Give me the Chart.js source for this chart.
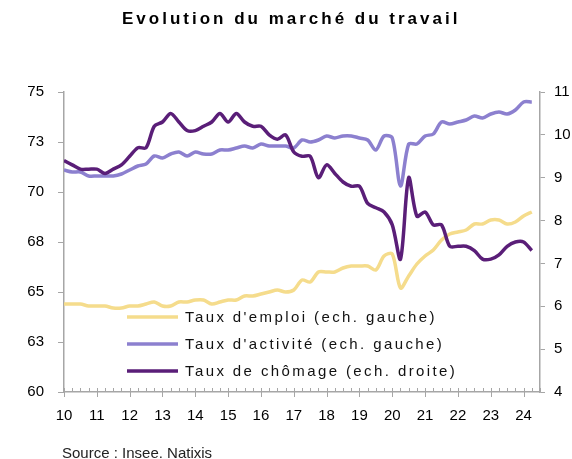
<!DOCTYPE html>
<html>
<head>
<meta charset="utf-8">
<script src="https://cdn.jsdelivr.net/npm/chart.js@4.4.1/dist/chart.umd.min.js"></script>
<style>
  body { margin: 0; background: #fff; }
  #wrap { width: 572px; height: 459px; }
</style>
</head>
<body>
<div id="wrap"><canvas id="labour-canvas" width="572" height="459"></canvas></div>
<script>
const chartTitle = "Evolution du marché du travail";
const sourceNote = "Source : Insee. Natixis";

// quarterly data, 2010 Q1 -> 2024 Q2 (x axis in years, "10" = 2010)
const firstYear = 10;
const lastAxisYear = 24.5;

const seriesLabels = [
  "Taux d'emploi (ech. gauche)",
  "Taux d'activité (ech. gauche)",
  "Taux de chômage (ech. droite)",
];

const employmentRate = [
  64.4, 64.4, 64.4, 64.3, 64.3, 64.3, 64.2, 64.2, 64.3, 64.3, 64.4, 64.5, 64.3, 64.3, 64.5, 64.5,
  64.6, 64.6, 64.4, 64.5, 64.6, 64.6, 64.8, 64.8, 64.9, 65.0, 65.1, 65.0, 65.1, 65.6, 65.5, 66.0,
  66.0, 66.0, 66.2, 66.3, 66.3, 66.3, 66.1, 66.8, 66.9, 65.2, 65.8, 66.4, 66.8, 67.1, 67.6, 67.9,
  68.0, 68.1, 68.4, 68.4, 68.6, 68.6, 68.4, 68.5, 68.8, 69.0,
];

const activityRate = [
  71.1, 71.0, 71.0, 70.8, 70.8, 70.8, 70.8, 70.9, 71.1, 71.3, 71.4, 71.8, 71.7, 71.9, 72.0, 71.8,
  72.0, 71.9, 71.9, 72.1, 72.1, 72.2, 72.3, 72.2, 72.4, 72.3, 72.3, 72.3, 72.2, 72.6, 72.5, 72.6,
  72.8, 72.7, 72.8, 72.8, 72.7, 72.6, 72.1, 72.8, 72.7, 70.3, 72.4, 72.4, 72.8, 72.9, 73.5, 73.4,
  73.5, 73.6, 73.8, 73.7, 73.9, 74.0, 73.9, 74.1, 74.5, 74.5,
];

const unemploymentRate = [
  9.4, 9.3, 9.2, 9.2, 9.2, 9.1, 9.2, 9.3, 9.5, 9.7, 9.7, 10.2, 10.3, 10.5, 10.3, 10.1,
  10.1, 10.2, 10.3, 10.5, 10.3, 10.5, 10.3, 10.2, 10.2, 10.0, 9.9, 10.0, 9.6, 9.5, 9.5, 9.0,
  9.3, 9.1, 8.9, 8.8, 8.8, 8.4, 8.3, 8.2, 7.9, 7.1, 9.0, 8.1, 8.2, 7.9, 7.9, 7.4,
  7.4, 7.4, 7.3, 7.1, 7.1, 7.2, 7.4, 7.5, 7.5, 7.3,
];

const seriesColors = ["#f5dc8c", "#8c80cf", "#5a1e78"];
const axisColor = "#a6a6a6";

function toPoints(values) {
  return values.map((v, i) => ({ x: firstYear + i / 4, y: v }));
}

const decorPlugin = {
  id: "decor",
  afterDraw(chart) {
    const ctx = chart.ctx;
    const xs = chart.scales.x;
    const area = chart.chartArea;
    ctx.save();

    // quarter ticks: years cross the axis, quarters point inwards
    ctx.strokeStyle = axisColor;
    ctx.lineWidth = 1;
    for (let q = xs.min * 4; q <= xs.max * 4; q++) {
      const px = Math.round(xs.getPixelForValue(q / 4)) + 0.5;
      const major = q % 4 === 0;
      ctx.beginPath();
      ctx.moveTo(px, area.bottom - 4);
      ctx.lineTo(px, area.bottom + (major ? 5 : 0));
      ctx.stroke();
    }

    // legend inside the plot
    ctx.font = "15px 'Liberation Sans', Arial, sans-serif";
    ctx.letterSpacing = "2.4px";
    ctx.textAlign = "left";
    ctx.textBaseline = "middle";
    const rowY = [317, 344, 371];
    chart.data.datasets.forEach((ds, i) => {
      const y = rowY[i];
      ctx.strokeStyle = ds.borderColor;
      ctx.lineWidth = 3.5;
      ctx.beginPath();
      ctx.moveTo(127, y);
      ctx.lineTo(178, y);
      ctx.stroke();
      ctx.fillStyle = "#111";
      ctx.fillText(ds.label, 185, y + 1);
    });

    // title
    ctx.font = "bold 17px 'Liberation Sans', Arial, sans-serif";
    ctx.letterSpacing = "3px";
    ctx.textBaseline = "alphabetic";
    ctx.fillStyle = "#000";
    ctx.fillText(chartTitle, 122, 24);

    // source
    ctx.font = "15px 'Liberation Sans', Arial, sans-serif";
    ctx.letterSpacing = "0px";
    ctx.fillStyle = "#222";
    ctx.fillText(sourceNote, 62, 458);

    ctx.restore();
  },
};

function labourConfig() {
  return {
    type: "line",
    data: {
      datasets: [
        {
          label: seriesLabels[0],
          data: toPoints(employmentRate),
          borderColor: seriesColors[0],
          yAxisID: "y",
          order: 3,
        },
        {
          label: seriesLabels[1],
          data: toPoints(activityRate),
          borderColor: seriesColors[1],
          yAxisID: "y",
          order: 2,
        },
        {
          label: seriesLabels[2],
          data: toPoints(unemploymentRate),
          borderColor: seriesColors[2],
          yAxisID: "y1",
          order: 1,
        },
      ],
    },
    options: {
      responsive: false,
      animation: false,
      devicePixelRatio: 1,
      elements: {
        line: { borderWidth: 3.5, tension: 0.3 },
        point: { radius: 0 },
      },
      layout: { padding: { top: 92, left: 0, right: 0, bottom: 0 } },
      plugins: {
        legend: { display: false },
        title: { display: false },
        tooltip: { enabled: false },
      },
      scales: {
        x: {
          type: "linear",
          min: firstYear,
          max: lastAxisYear,
          afterFit: (s) => { s.height = 67; },
          grid: { display: false, drawTicks: false },
          border: { display: true, color: axisColor, width: 1.5 },
          ticks: {
            stepSize: 1,
            includeBounds: false,
            autoSkip: false,
            maxRotation: 0,
            padding: 15,
            color: "#000",
            font: { size: 15 },
          },
        },
        y: {
          position: "left",
          min: 60,
          max: 75,
          afterFit: (s) => { s.width = 64; },
          grid: { drawOnChartArea: false, tickLength: 6, tickColor: axisColor },
          border: { color: axisColor, width: 1.5 },
          ticks: {
            stepSize: 2.5,
            padding: 14,
            color: "#000",
            font: { size: 15 },
            callback: (v) => Math.round(v),
          },
        },
        y1: {
          position: "right",
          min: 4,
          max: 11,
          afterFit: (s) => { s.width = 32; },
          grid: { drawOnChartArea: false, tickLength: 5, tickColor: axisColor },
          border: { color: axisColor, width: 1.5 },
          ticks: {
            stepSize: 1,
            padding: 9,
            color: "#000",
            font: { size: 15 },
          },
        },
      },
    },
    plugins: [decorPlugin],
  };
}

Chart.defaults.font.family = "'Liberation Sans', Arial, sans-serif";
const ctx = document.getElementById("labour-canvas").getContext("2d");
window.labourChart = new Chart(ctx, labourConfig());
</script>
</body>
</html>
